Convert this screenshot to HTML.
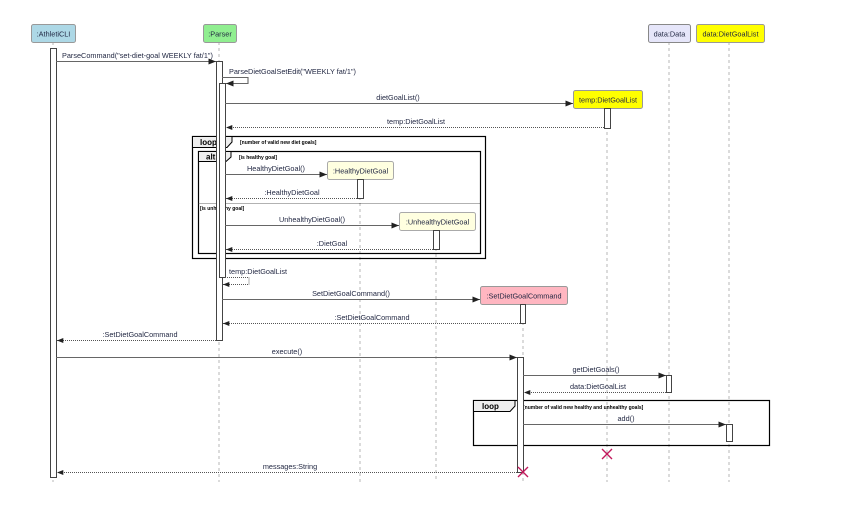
<!DOCTYPE html>
<html><head><meta charset="utf-8"><style>
html,body{margin:0;padding:0;background:#fff}
svg{display:block}
text{font-family:"Liberation Sans",sans-serif;font-size:7.3px;fill:#1f2540}
.g{font-size:5px;font-weight:bold;fill:#000}
.lt{font-size:8px;font-weight:bold;fill:#000}
</style></head><body>
<svg width="858" height="521" viewBox="0 0 858 521" xmlns="http://www.w3.org/2000/svg">
<defs><marker id="a" viewBox="0 0 10 10" refX="10" refY="5" markerWidth="7" markerHeight="7" orient="auto"><path d="M0,1 L10,5 L0,9 z" fill="#222"/></marker></defs>
<g stroke="#b0b0b0" stroke-width="0.9" stroke-dasharray="3,3" fill="none">
<line x1="53" y1="42" x2="53" y2="482"/>
<line x1="219" y1="42" x2="219" y2="482"/>
<line x1="360" y1="179" x2="360" y2="482"/>
<line x1="436" y1="230" x2="436" y2="482"/>
<line x1="523" y1="304" x2="523" y2="482"/>
<line x1="607" y1="108" x2="607" y2="482"/>
<line x1="669" y1="42" x2="669" y2="482"/>
<line x1="729" y1="42" x2="729" y2="482"/>
</g>
<rect x="31.5" y="24.5" width="44" height="18" rx="2" fill="#add8e6" stroke="#999"/>
<text x="53.5" y="36.5" text-anchor="middle">:AthletiCLI</text>
<rect x="203.5" y="24.5" width="33" height="18" rx="2" fill="#90ee90" stroke="#999"/>
<text x="220" y="36.5" text-anchor="middle">:Parser</text>
<rect x="648.5" y="24.5" width="42" height="18" rx="2" fill="#e6e6fa" stroke="#888"/>
<text x="669.5" y="36.5" text-anchor="middle">data:Data</text>
<rect x="696.5" y="24.5" width="68" height="18" rx="2" fill="#ffff00" stroke="#999"/>
<text x="730.5" y="36.5" text-anchor="middle">data:DietGoalList</text>
<rect x="573.5" y="90.5" width="69" height="18" rx="2" fill="#ffff00" stroke="#999"/>
<text x="608" y="102.5" text-anchor="middle">temp:DietGoalList</text>
<rect x="327.5" y="161.5" width="66" height="18" rx="2" fill="#ffffe0" stroke="#aaa"/>
<text x="360.5" y="173.5" text-anchor="middle">:HealthyDietGoal</text>
<rect x="399.5" y="212.5" width="76" height="18" rx="2" fill="#ffffe0" stroke="#aaa"/>
<text x="437.5" y="224.5" text-anchor="middle">:UnhealthyDietGoal</text>
<rect x="480.5" y="286.5" width="87" height="18" rx="2" fill="#ffb6c1" stroke="#999"/>
<text x="524" y="298.5" text-anchor="middle">:SetDietGoalCommand</text>
<g fill="none" stroke="#000">
<rect x="192.5" y="136.5" width="293" height="122" stroke-width="1.2"/>
<rect x="198.5" y="151.5" width="282" height="102" stroke-width="1.2"/>
<rect x="473.5" y="400.5" width="296" height="45" stroke-width="1.2"/>
</g>
<path d="M192.5,136.5 H232 V142 L227,147.5 H192.5z" fill="#eee" stroke="#000"/>
<text class="lt" x="200" y="145">loop</text>
<text class="g" x="240" y="144">[number of valid new diet goals]</text>
<path d="M198.5,151.5 H231 V157 L226,161.5 H198.5z" fill="#eee" stroke="#000"/>
<text class="lt" x="206" y="159.5">alt</text>
<text class="g" x="239" y="159">[is healthy goal]</text>
<line x1="198.5" y1="203.5" x2="480.5" y2="203.5" stroke="#333" stroke-width="0.8" stroke-dasharray="1,1"/>
<text class="g" x="200" y="210">[is unhealthy goal]</text>
<path d="M473.5,400.5 H515 V406 L510,411.5 H473.5z" fill="#eee" stroke="#000"/>
<text class="lt" x="482" y="409">loop</text>
<text class="g" x="523" y="409">[number of valid new healthy and unhealthy goals]</text>
<g fill="#fff" stroke="#444" stroke-width="1">
<rect x="50.5" y="48.5" width="6" height="429"/>
<rect x="216.5" y="61.5" width="6" height="279"/>
<rect x="219.5" y="83.5" width="6" height="194"/>
<rect x="604.5" y="108.5" width="6" height="20"/>
<rect x="357.5" y="179.5" width="6" height="19"/>
<rect x="433.5" y="230.5" width="6" height="19"/>
<rect x="520.5" y="304.5" width="5" height="19"/>
<rect x="517.5" y="357.5" width="6" height="115"/>
<rect x="666.5" y="375.5" width="5" height="17"/>
<rect x="726.5" y="424.5" width="6" height="17"/>
</g>
<g stroke="#666" stroke-width="1.1" fill="none">
<line x1="56" y1="61.5" x2="216" y2="61.5" marker-end="url(#a)"/>
<polyline points="222,77.5 248,77.5 248,83.5 226,83.5" marker-end="url(#a)"/>
<line x1="225" y1="103.5" x2="573" y2="103.5" marker-end="url(#a)"/>
<line x1="225" y1="174.5" x2="327" y2="174.5" marker-end="url(#a)"/>
<line x1="225" y1="225.5" x2="399" y2="225.5" marker-end="url(#a)"/>
<line x1="222" y1="299.5" x2="480" y2="299.5" marker-end="url(#a)"/>
<line x1="56" y1="357.5" x2="517" y2="357.5" marker-end="url(#a)"/>
<line x1="523" y1="375.5" x2="666" y2="375.5" marker-end="url(#a)"/>
<line x1="523" y1="424.5" x2="726" y2="424.5" marker-end="url(#a)"/>
</g>
<g stroke="#555" stroke-width="0.9" fill="none" stroke-dasharray="1,1">
<line x1="604" y1="127.5" x2="226" y2="127.5" marker-end="url(#a)"/>
<line x1="357" y1="198.5" x2="226" y2="198.5" marker-end="url(#a)"/>
<line x1="433" y1="249.5" x2="226" y2="249.5" marker-end="url(#a)"/>
<polyline points="225,277.5 249,277.5 249,284.5 223,284.5" marker-end="url(#a)"/>
<line x1="520" y1="323.5" x2="223" y2="323.5" marker-end="url(#a)"/>
<line x1="216" y1="340.5" x2="57" y2="340.5" marker-end="url(#a)"/>
<line x1="666" y1="392.5" x2="524" y2="392.5" marker-end="url(#a)"/>
<line x1="517" y1="472.5" x2="57" y2="472.5" marker-end="url(#a)"/>
</g>
<text x="62" y="58">ParseCommand("set-diet-goal WEEKLY fat/1")</text>
<text x="229" y="74">ParseDietGoalSetEdit("WEEKLY fat/1")</text>
<text x="398" y="100" text-anchor="middle">dietGoalList()</text>
<text x="416" y="124" text-anchor="middle">temp:DietGoalList</text>
<text x="276" y="171" text-anchor="middle">HealthyDietGoal()</text>
<text x="292" y="195" text-anchor="middle">:HealthyDietGoal</text>
<text x="312" y="222" text-anchor="middle">UnhealthyDietGoal()</text>
<text x="332" y="246" text-anchor="middle">:DietGoal</text>
<text x="229" y="274">temp:DietGoalList</text>
<text x="351" y="296" text-anchor="middle">SetDietGoalCommand()</text>
<text x="372" y="320" text-anchor="middle">:SetDietGoalCommand</text>
<text x="140" y="337" text-anchor="middle">:SetDietGoalCommand</text>
<text x="287" y="354" text-anchor="middle">execute()</text>
<text x="596" y="372" text-anchor="middle">getDietGoals()</text>
<text x="598" y="389" text-anchor="middle">data:DietGoalList</text>
<text x="626" y="421" text-anchor="middle">add()</text>
<text x="290" y="469" text-anchor="middle">messages:String</text>
<g stroke="#c2185b" stroke-width="1.3">
<line x1="602" y1="449" x2="612" y2="459"/><line x1="612" y1="449" x2="602" y2="459"/>
<line x1="518" y1="467" x2="528" y2="477"/><line x1="528" y1="467" x2="518" y2="477"/>
</g>
</svg>
</body></html>
